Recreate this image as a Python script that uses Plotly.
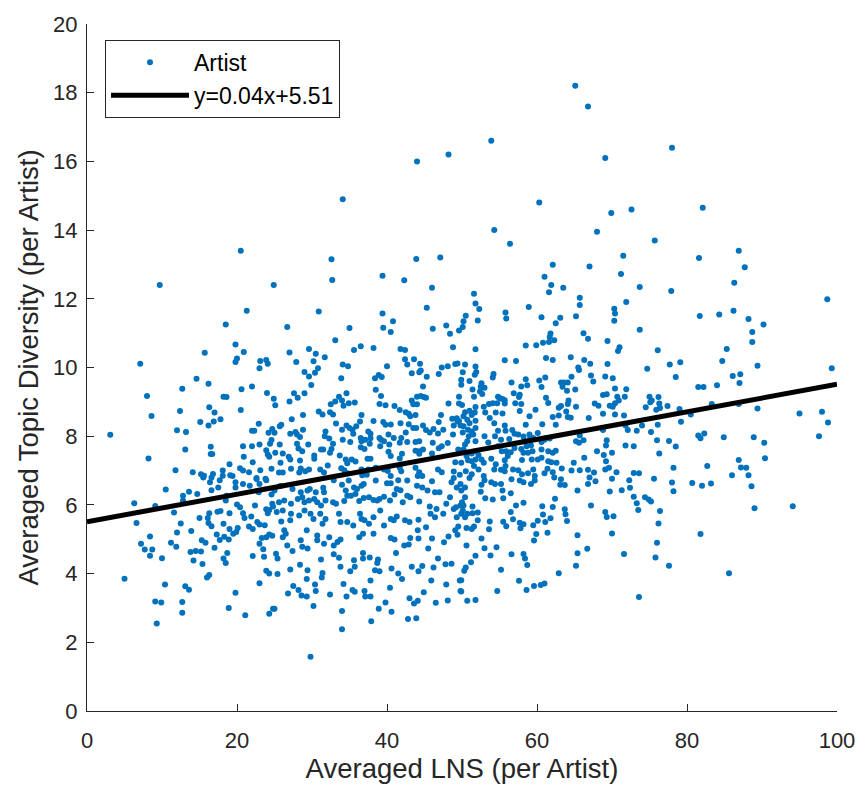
import plotly.graph_objects as go

# Per-artist averages: (Averaged LNS, Averaged Topic Diversity)
artist_points = [
    (65.1, 18.2), (66.8, 17.6), (53.9, 16.6), (69.1, 16.1), (60.3, 14.8), (72.6, 14.6), (69.9, 14.5),
    (54.3, 14.0), (68.0, 13.95), (56.4, 13.6), (78.0, 16.4), (82.1, 14.65), (75.7, 13.7), (86.9, 13.4),
    (34.1, 14.9), (44.0, 16.0), (48.2, 16.2), (20.5, 13.4),
    (9.7, 12.4), (24.9, 12.4), (21.3, 11.65), (18.5, 11.25), (19.8, 10.67), (20.9, 10.45), (15.7, 10.43),
    (20.0, 10.26), (19.8, 10.16), (23.1, 10.19), (23.9, 10.22), (24.1, 10.11), (23.0, 9.98), (7.1, 10.11),
    (14.6, 9.67), (16.2, 9.53), (12.7, 9.38), (22.0, 9.45), (20.6, 9.37), (24.0, 9.26), (18.2, 9.15),
    (18.6, 9.14), (8.0, 9.17), (24.9, 9.09), (25.1, 8.90), (16.3, 8.84), (17.0, 8.69), (12.4, 8.73),
    (20.5, 8.76), (8.6, 8.59), (17.8, 8.49), (16.9, 8.43), (15.1, 8.41), (16.2, 8.31), (22.9, 8.36),
    (24.7, 8.21), (22.0, 8.16), (22.3, 8.16), (24.2, 8.10), (25.0, 8.10), (12.0, 8.17), (13.2, 8.12),
    (3.1, 8.04), (24.6, 7.89), (24.4, 7.78), (20.8, 7.71), (22.0, 7.71), (23.0, 7.76), (16.5, 7.69),
    (13.1, 7.61), (23.9, 7.59), (24.1, 7.47), (24.3, 7.40), (25.1, 7.52), (16.5, 7.48), (16.7, 7.48),
    (20.9, 7.40), (8.2, 7.35), (19.0, 7.18), (22.1, 7.24), (20.4, 7.07), (20.8, 7.00), (21.6, 6.95),
    (23.1, 7.01), (24.6, 7.05), (11.8, 7.01), (14.1, 6.95), (15.2, 6.89), (15.6, 6.85), (16.8, 6.90),
    (16.6, 6.80), (18.1, 7.00), (18.1, 6.85), (19.1, 6.86), (19.4, 6.84), (22.6, 6.78), (23.8, 6.76),
    (32.6, 13.15), (32.7, 12.55), (43.9, 13.16), (47.1, 13.20), (39.4, 12.67), (42.3, 12.54), (46.0, 12.32),
    (30.9, 11.63), (45.3, 11.74), (39.4, 11.57), (40.8, 11.35), (39.5, 11.16), (40.5, 11.03), (26.7, 11.18),
    (35.0, 11.15), (46.1, 11.13), (47.9, 11.22), (48.4, 10.98), (49.6, 11.08), (50.1, 11.18), (50.2, 11.35),
    (33.1, 10.79), (27.0, 10.44), (29.6, 10.54), (30.5, 10.40), (31.7, 10.30), (35.6, 10.51), (36.5, 10.62),
    (38.2, 10.57), (41.8, 10.54), (42.4, 10.51), (48.8, 10.59), (27.9, 10.16), (30.2, 10.18), (30.8, 9.98),
    (34.1, 10.09), (34.8, 10.04), (40.0, 10.04), (42.4, 10.24), (43.6, 10.24), (42.7, 10.09), (44.4, 10.11),
    (47.3, 10.00), (48.1, 10.04), (49.1, 10.10), (49.4, 10.12), (29.0, 9.87), (30.4, 9.85), (29.6, 9.74),
    (33.9, 9.69), (38.4, 9.69), (38.9, 9.78), (39.3, 9.72), (43.3, 9.83), (44.3, 9.86), (44.5, 9.91),
    (45.3, 9.73), (46.9, 9.81), (50.1, 9.86), (29.9, 9.49), (38.5, 9.35), (44.8, 9.45), (49.9, 9.50),
    (27.6, 9.25), (28.1, 9.12), (29.0, 9.25), (27.0, 9.01), (33.6, 9.15), (33.1, 9.01), (32.5, 8.93),
    (34.2, 8.89), (34.6, 9.25), (34.0, 9.04), (34.9, 8.96), (35.7, 8.98), (39.2, 9.17), (39.0, 8.94),
    (39.8, 8.90), (41.0, 8.88), (43.3, 9.04), (43.5, 8.93), (44.0, 8.93), (44.0, 9.15), (44.5, 9.17),
    (44.9, 9.14), (45.2, 9.12), (48.2, 8.95), (49.6, 9.15), (49.6, 8.95), (50.0, 8.91), (30.9, 8.72),
    (31.4, 8.63), (32.4, 8.70), (32.8, 8.63), (36.6, 8.62), (41.7, 8.76), (42.5, 8.70), (42.9, 8.65),
    (43.1, 8.58), (43.8, 8.62), (47.2, 8.62), (48.7, 8.51), (49.3, 8.52), (49.4, 8.43), (28.8, 8.62),
    (27.3, 8.49), (25.9, 8.33), (25.7, 8.29), (28.8, 8.19), (27.8, 8.12), (27.1, 8.07), (28.0, 8.05),
    (28.4, 7.98), (31.8, 8.14), (31.7, 8.00), (32.3, 7.93), (33.2, 8.37), (34.0, 8.19), (34.6, 8.31),
    (35.0, 8.24), (35.4, 8.19), (35.9, 8.29), (35.5, 8.07), (36.4, 8.43), (37.5, 8.14), (37.8, 8.07),
    (38.2, 8.44), (39.5, 8.41), (39.8, 8.33), (40.5, 8.34), (41.8, 8.38), (42.9, 8.35), (43.5, 8.24),
    (43.9, 8.24), (42.5, 8.11), (40.2, 8.05), (40.9, 7.95), (41.9, 7.95), (39.0, 7.95), (39.2, 7.90),
    (36.5, 7.95), (37.1, 7.90), (37.8, 7.94), (34.1, 7.90), (44.8, 8.31), (45.2, 8.18), (45.7, 8.11),
    (46.2, 8.21), (46.9, 8.41), (46.8, 8.08), (47.5, 8.19), (48.9, 8.31), (49.6, 8.44), (49.8, 8.31),
    (48.8, 8.05), (50.1, 8.11), (25.7, 7.76), (28.0, 7.78), (28.2, 7.64), (28.7, 7.56), (29.5, 7.76),
    (31.2, 7.61), (31.5, 7.61), (32.8, 7.78), (32.6, 7.63), (35.1, 7.83), (36.5, 7.68), (37.0, 7.63),
    (37.7, 7.78), (36.6, 7.85), (39.1, 7.71), (39.6, 7.85), (40.3, 7.76), (41.7, 7.81), (42.7, 7.83),
    (43.8, 7.83), (44.3, 7.85), (44.8, 7.61), (43.8, 7.58), (44.3, 7.56), (46.1, 7.81), (46.9, 7.65),
    (47.3, 7.71), (48.1, 7.80), (49.5, 7.61), (26.1, 7.50), (26.9, 7.40), (27.1, 7.32), (25.8, 7.23),
    (28.4, 7.29), (30.3, 7.44), (30.3, 7.34), (32.4, 7.52), (33.7, 7.44), (34.5, 7.32), (34.7, 7.21),
    (35.3, 7.32), (35.8, 7.26), (37.4, 7.34), (37.8, 7.34), (40.2, 7.55), (40.5, 7.42), (42.0, 7.49),
    (41.7, 7.35), (44.3, 7.49), (46.0, 7.50), (49.1, 7.24), (27.2, 7.05), (28.5, 7.06), (29.1, 6.98),
    (29.6, 7.03), (31.1, 7.03), (32.1, 7.15), (33.9, 7.07), (34.3, 7.01), (36.6, 7.03), (37.5, 7.03),
    (38.5, 7.08), (39.6, 7.03), (40.1, 6.99), (41.7, 7.08), (41.9, 6.98), (43.8, 7.08), (44.3, 6.95),
    (46.8, 7.03), (47.3, 6.95), (48.9, 6.97), (25.6, 6.94), (26.1, 6.94), (28.3, 6.94), (31.6, 6.94),
    (34.7, 6.92), (36.7, 6.86), (37.3, 6.88), (40.5, 6.84), (44.1, 6.84), (44.7, 6.84), (49.7, 6.88),
    (71.5, 13.25), (62.1, 12.99), (67.0, 12.94), (71.2, 12.72), (61.0, 12.64), (61.9, 12.40), (61.6, 12.19),
    (63.5, 12.32), (73.7, 12.34), (51.6, 12.15), (51.8, 11.86), (52.3, 11.70), (65.7, 12.03), (65.7, 11.82),
    (71.9, 11.91), (58.9, 11.76), (55.8, 11.60), (55.9, 11.43), (50.5, 11.51), (52.1, 11.37), (60.6, 11.46),
    (63.1, 11.45), (62.5, 11.29), (65.2, 11.49), (70.3, 11.71), (70.4, 11.57), (70.3, 11.36), (73.7, 11.10),
    (61.8, 10.99), (61.7, 10.89), (62.3, 10.79), (61.6, 10.74), (60.8, 10.72), (59.9, 10.65), (58.5, 10.64),
    (66.2, 11.00), (66.8, 10.84), (69.4, 10.77), (71.0, 10.59), (70.8, 10.48), (51.8, 10.53), (55.7, 10.21),
    (57.2, 10.19), (61.2, 10.28), (62.1, 10.22), (64.5, 10.30), (66.3, 10.22), (67.1, 10.11), (69.4, 10.10),
    (50.4, 10.09), (51.8, 10.03), (51.9, 9.87), (51.7, 9.79), (65.5, 10.00), (65.6, 9.93), (74.7, 9.96),
    (54.2, 9.81), (54.1, 9.71), (61.1, 9.71), (64.6, 9.73), (67.2, 9.77), (67.5, 9.59), (69.1, 9.74),
    (70.1, 9.69), (49.9, 9.64), (51.0, 9.61), (52.6, 9.54), (52.5, 9.44), (53.0, 9.41), (51.4, 9.36),
    (51.6, 9.15), (52.4, 9.30), (52.7, 9.23), (58.5, 9.66), (58.7, 9.48), (57.9, 9.45), (56.6, 9.56),
    (60.3, 9.62), (60.6, 9.43), (63.2, 9.56), (63.6, 9.56), (64.1, 9.56), (63.4, 9.44), (64.0, 9.32),
    (65.1, 9.36), (70.4, 9.39), (70.7, 9.15), (71.9, 9.37), (71.7, 9.15), (68.8, 9.20), (69.3, 9.22),
    (75.0, 9.15), (75.1, 8.99), (54.8, 9.15), (55.0, 9.11), (55.4, 9.08), (55.7, 9.05), (55.7, 8.95),
    (54.7, 8.96), (54.1, 8.96), (53.6, 8.94), (56.9, 9.25), (57.1, 8.96), (57.6, 9.14), (57.7, 9.21),
    (57.9, 8.94), (61.2, 9.12), (61.5, 8.97), (62.9, 8.83), (63.2, 8.88), (64.2, 9.04), (64.1, 8.94),
    (65.2, 8.86), (67.7, 8.95), (68.2, 8.89), (68.8, 8.65), (69.7, 8.89), (70.1, 8.86), (70.4, 8.96),
    (70.9, 9.04), (74.5, 8.84), (51.0, 8.74), (51.3, 8.62), (51.8, 8.85), (51.7, 8.69), (50.4, 8.70),
    (50.2, 8.58), (50.7, 8.48), (51.0, 8.38), (51.8, 8.45), (52.9, 8.86), (53.1, 8.69), (53.7, 8.53),
    (54.5, 8.69), (55.4, 8.66), (54.3, 8.38), (57.7, 8.73), (59.0, 8.58), (58.5, 8.33), (59.8, 8.77),
    (60.7, 8.35), (62.1, 8.56), (62.5, 8.33), (62.9, 8.60), (63.9, 8.72), (64.1, 8.56), (64.5, 8.54),
    (66.9, 8.53), (68.8, 8.18), (70.4, 8.63), (71.6, 8.60), (71.8, 8.31), (72.1, 8.18), (73.3, 8.16),
    (74.0, 8.31), (75.2, 8.12), (50.2, 8.29), (50.8, 8.19), (51.3, 8.14), (51.8, 8.24), (51.5, 8.05),
    (50.9, 8.00), (50.7, 7.85), (51.8, 7.85), (53.0, 8.00), (53.5, 7.82), (54.4, 8.00), (54.8, 8.16),
    (55.7, 8.31), (55.8, 8.16), (56.7, 8.18), (57.0, 8.07), (57.5, 8.05), (55.2, 7.90), (56.3, 7.92),
    (58.2, 7.99), (58.3, 7.87), (59.0, 8.05), (59.0, 7.90), (59.5, 7.95), (60.1, 8.09), (60.6, 7.83),
    (61.0, 7.90), (61.3, 7.95), (61.7, 7.93), (65.2, 7.85), (65.6, 7.81), (65.7, 8.02), (66.2, 7.88),
    (69.3, 7.88), (69.2, 7.73), (71.8, 7.73), (72.9, 7.71), (50.4, 7.76), (50.2, 7.61), (50.6, 7.42),
    (51.3, 7.50), (51.8, 7.56), (52.2, 7.45), (52.6, 7.32), (52.9, 7.23), (51.8, 7.32), (51.3, 7.27),
    (50.8, 7.30), (54.8, 7.71), (55.3, 7.56), (55.9, 7.56), (56.5, 7.53), (56.1, 7.42), (55.7, 7.30),
    (55.8, 7.13), (57.0, 7.66), (57.9, 7.63), (58.6, 7.71), (59.2, 7.73), (59.4, 7.56), (58.2, 7.52),
    (58.8, 7.52), (60.6, 7.61), (60.6, 7.37), (60.1, 7.32), (59.3, 7.32), (58.0, 7.31), (61.5, 7.56),
    (62.1, 7.52), (62.5, 7.58), (61.5, 7.27), (61.9, 7.24), (62.6, 7.23), (64.9, 7.23), (66.3, 7.37),
    (68.0, 7.56), (68.9, 7.45), (70.0, 7.52), (53.9, 7.34), (54.5, 7.18), (52.2, 7.03), (51.6, 7.13),
    (51.3, 6.89), (52.9, 6.84), (54.3, 7.03), (55.2, 7.02), (55.7, 6.98), (56.8, 7.03), (57.5, 7.01),
    (58.0, 6.89), (58.8, 6.92), (59.5, 7.03), (59.7, 6.84), (61.0, 6.92), (61.4, 7.05), (62.1, 6.95),
    (63.3, 7.06), (64.6, 7.00), (65.7, 7.01), (66.8, 7.02), (67.6, 6.94), (69.1, 7.03), (70.6, 6.95),
    (72.9, 6.93), (73.6, 6.92), (49.9, 7.23), (50.5, 6.98), (69.2, 7.27), (69.6, 7.08), (67.0, 6.80),
    (70.0, 6.76),
    (81.6, 13.19), (87.7, 12.92), (86.3, 12.47), (77.9, 12.23), (98.7, 11.99), (81.7, 11.50), (84.3, 11.54),
    (86.2, 11.65), (88.2, 11.41), (90.2, 11.25), (88.7, 11.03), (88.7, 10.74), (76.1, 10.50), (85.3, 10.54),
    (79.1, 10.15), (77.7, 10.09), (84.7, 10.19), (89.4, 10.05), (99.3, 9.98), (78.5, 9.72), (86.1, 9.75),
    (87.1, 9.80), (87.0, 9.55), (81.5, 9.43), (82.2, 9.43), (84.0, 9.48), (75.3, 9.04), (76.2, 9.14),
    (76.3, 8.95), (76.4, 8.82), (75.9, 8.77), (77.4, 8.88), (79.0, 8.79), (80.5, 8.63), (79.2, 8.42),
    (83.3, 8.94), (86.9, 8.94), (89.4, 8.81), (95.0, 8.66), (98.0, 8.71), (98.8, 8.40), (76.1, 8.33),
    (81.5, 8.02), (81.8, 7.94), (82.3, 8.08), (84.9, 7.97), (88.9, 7.97), (90.3, 7.81), (97.6, 8.00),
    (76.0, 7.88), (77.6, 7.86), (78.5, 7.70), (76.3, 7.50), (86.9, 7.31), (90.4, 7.36), (78.2, 7.08),
    (82.7, 7.13), (87.2, 7.09), (87.9, 7.08), (86.0, 6.86), (88.2, 6.86), (75.6, 6.76),
    (78.0, 6.65), (78.2, 6.40), (80.7, 6.64), (82.0, 6.56), (83.2, 6.62), (88.6, 6.54), (74.9, 6.16),
    (75.2, 6.10), (76.4, 5.82), (76.2, 5.46), (89.0, 5.90), (94.1, 5.96), (81.8, 5.15), (76.0, 4.90),
    (75.8, 4.47), (77.6, 4.23), (85.6, 4.01),
    (51.0, 6.78), (53.0, 6.72), (53.9, 6.66), (54.4, 6.61), (52.6, 6.59), (55.2, 6.61), (56.6, 6.75),
    (57.7, 6.71), (58.2, 6.66), (59.2, 6.61), (59.7, 6.71), (62.3, 6.80), (63.2, 6.75), (63.1, 6.59),
    (63.7, 6.58), (66.8, 6.61), (67.8, 6.69), (72.3, 6.72), (72.4, 6.50), (72.9, 6.24), (73.3, 6.05),
    (73.5, 5.85), (74.4, 6.22), (50.4, 6.51), (49.9, 6.42), (52.5, 6.38), (53.1, 6.19), (54.1, 6.16),
    (55.4, 6.42), (55.5, 6.19), (56.5, 6.34), (58.2, 6.06), (57.2, 5.98), (50.4, 6.22), (50.2, 5.98),
    (51.4, 5.95), (51.4, 5.76), (52.1, 5.78), (50.4, 5.64), (50.7, 5.74), (52.1, 5.55), (50.6, 5.33),
    (51.3, 5.30), (51.6, 5.37), (49.9, 5.74), (53.7, 5.52), (53.6, 5.29), (55.5, 5.51), (55.9, 5.38),
    (56.5, 5.79), (56.8, 5.58), (57.7, 5.48), (58.2, 5.44), (57.8, 5.32), (60.7, 5.96), (60.8, 5.72),
    (60.1, 5.54), (59.5, 5.41), (61.1, 5.50), (61.8, 5.61), (62.1, 5.94), (62.4, 6.18), (63.7, 5.87),
    (63.8, 5.73), (64.0, 5.53), (65.4, 6.42), (67.2, 5.98), (69.7, 6.39), (71.3, 6.43), (69.1, 5.79),
    (69.3, 5.65), (70.2, 5.67), (70.0, 5.17), (52.6, 5.02), (50.6, 4.82), (53.0, 4.74), (53.8, 4.53),
    (54.6, 4.77), (51.8, 4.52), (51.2, 4.33), (50.5, 4.18), (50.3, 4.08), (49.9, 3.81), (49.9, 3.48),
    (50.7, 3.21), (51.8, 3.23), (55.2, 4.11), (54.7, 3.49), (56.6, 4.56), (58.2, 4.57), (58.4, 4.44),
    (58.7, 4.25), (57.6, 3.79), (58.6, 3.52), (59.6, 3.64), (60.5, 3.67), (61.0, 3.71), (59.9, 5.15),
    (59.6, 4.96), (61.4, 5.19), (62.9, 4.01), (65.2, 4.23), (65.4, 4.59), (65.4, 5.12), (66.7, 4.72),
    (71.6, 4.57), (73.6, 3.32),
    (25.0, 6.42), (25.8, 6.55), (27.4, 6.46), (28.5, 6.37), (29.4, 6.42), (29.7, 6.46), (30.5, 6.37),
    (31.5, 6.50), (31.6, 6.37), (32.9, 6.72), (34.0, 6.59), (34.5, 6.42), (34.9, 6.71), (35.6, 6.51),
    (36.0, 6.46), (36.6, 6.56), (36.9, 6.61), (38.5, 6.71), (40.0, 6.63), (40.5, 6.63), (41.5, 6.72),
    (41.3, 6.46), (41.8, 6.43), (42.7, 6.71), (44.0, 6.56), (44.7, 6.51), (45.4, 6.42), (46.0, 6.69),
    (46.4, 6.37), (47.0, 6.37), (48.6, 6.66), (48.9, 6.78), (49.3, 6.51), (49.8, 6.61),
    (25.6, 6.08), (26.3, 6.13), (27.2, 6.03), (28.1, 6.17), (28.7, 6.22), (29.0, 6.08), (29.6, 6.13),
    (30.3, 6.17), (30.7, 6.08), (31.2, 5.98), (31.8, 6.13), (32.8, 6.08), (33.2, 6.03), (34.3, 6.11),
    (34.7, 6.27), (35.2, 6.27), (35.8, 6.32), (36.3, 6.11), (36.9, 6.20), (37.6, 6.22), (38.2, 6.14),
    (38.7, 6.13), (39.0, 6.17), (39.6, 6.24), (40.4, 6.13), (41.0, 6.30), (42.1, 6.08), (42.7, 6.27),
    (43.1, 6.22), (44.3, 6.10), (45.7, 5.95), (46.6, 5.88), (47.9, 6.03), (48.4, 6.22), (48.9, 5.88),
    (49.2, 5.93), (49.8, 5.98), (50.0, 6.08),
    (25.3, 5.79), (26.1, 5.84), (27.2, 5.74), (28.3, 5.69), (29.0, 5.84), (29.8, 5.74), (30.2, 5.59),
    (31.1, 5.74), (31.4, 5.45), (31.8, 5.59), (33.6, 5.74), (33.8, 5.50), (34.7, 5.50), (35.5, 5.40),
    (36.4, 5.74), (36.6, 5.59), (37.0, 5.55), (37.6, 5.45), (38.2, 5.64), (39.1, 5.84), (39.6, 5.40),
    (40.5, 5.59), (40.9, 5.55), (41.3, 5.66), (42.4, 5.55), (43.0, 5.50), (44.2, 5.57), (45.2, 5.35),
    (45.8, 5.74), (46.4, 5.64), (47.5, 5.74), (49.3, 5.64), (49.5, 5.37), (50.1, 5.84),
    (25.9, 5.52), (27.1, 5.55), (26.3, 5.26), (26.1, 5.06), (26.7, 4.82), (27.4, 4.66), (28.5, 4.97),
    (28.7, 4.78), (29.4, 4.73), (30.7, 5.11), (31.6, 4.87), (32.3, 5.06), (32.9, 4.82), (33.4, 4.92),
    (33.8, 4.99), (36.3, 5.06), (36.8, 5.16), (38.2, 5.16), (40.5, 5.04), (41.0, 4.99), (41.2, 4.60),
    (42.3, 4.82), (42.9, 4.85), (43.1, 5.04), (44.1, 5.26), (44.2, 5.02), (45.5, 4.73), (46.0, 5.02),
    (47.6, 4.91), (48.2, 5.08), (49.1, 5.26), (49.4, 5.13), (26.5, 5.16), (29.3, 5.26), (30.7, 4.97),
    (25.2, 4.58), (25.4, 4.44), (28.4, 4.26), (29.4, 4.10), (29.3, 3.84), (27.1, 4.12), (31.2, 4.41),
    (31.4, 4.02), (31.3, 3.89), (32.9, 4.56), (33.6, 4.46), (33.8, 4.20), (35.1, 4.07), (35.6, 4.39),
    (35.7, 4.20), (36.8, 4.60), (36.8, 4.44), (37.7, 4.47), (38.4, 4.10), (38.7, 4.31), (38.8, 4.41),
    (39.0, 4.07), (40.6, 4.15), (41.5, 4.00), (42.0, 3.84), (43.3, 4.20), (44.2, 4.07), (44.7, 4.22),
    (46.2, 4.18), (46.8, 4.44), (47.8, 4.27), (48.6, 4.29), (45.9, 3.80), (49.7, 3.80),
    (25.4, 3.99), (27.5, 3.64), (28.2, 3.52), (28.6, 3.36), (29.3, 3.33), (26.8, 3.42), (30.4, 3.68),
    (30.5, 3.49), (32.4, 3.39), (34.2, 3.70), (34.6, 3.33), (35.7, 3.47), (37.0, 3.49), (37.1, 3.33),
    (37.8, 3.33), (37.8, 3.80), (40.4, 3.59), (39.8, 3.16), (40.6, 2.89), (38.9, 2.98), (37.9, 2.61),
    (34.0, 2.91), (34.0, 2.38), (30.2, 3.06), (29.8, 1.58), (43.0, 3.28), (43.6, 3.13), (44.1, 3.21),
    (44.9, 3.46), (46.5, 3.15), (47.9, 3.68), (48.1, 3.22), (49.8, 3.49), (42.8, 2.68), (43.9, 2.70),
    (25.0, 2.98), (35.4, 3.52),
    (10.5, 6.45), (6.3, 6.05), (9.1, 5.97), (11.6, 5.78), (6.6, 5.47), (12.8, 6.27), (12.8, 6.13),
    (13.6, 6.38), (14.7, 6.32), (15.5, 6.80), (16.4, 6.66), (16.6, 6.43), (17.5, 6.51), (17.7, 6.72),
    (18.6, 6.27), (18.5, 6.13), (19.8, 6.66), (19.8, 6.51), (20.8, 6.61), (21.7, 6.56), (22.6, 6.75),
    (23.0, 6.61), (22.9, 6.37), (23.9, 6.72), (15.0, 5.62), (16.1, 5.62), (16.3, 5.76), (17.4, 5.80),
    (17.8, 5.82), (19.0, 5.76), (16.2, 5.47), (16.6, 5.38), (18.2, 5.45), (19.0, 5.30), (19.5, 5.16),
    (19.9, 5.21), (20.1, 5.33), (20.4, 5.93), (20.0, 6.01), (20.8, 5.76), (21.0, 5.62), (21.6, 5.37),
    (22.1, 5.30), (21.9, 5.66), (22.4, 5.98), (22.7, 5.50), (23.0, 5.43), (23.7, 5.41), (24.3, 5.85),
    (24.1, 5.76), (24.8, 5.95), (24.6, 6.30), (24.7, 6.03), (23.9, 5.87),
    (7.2, 4.87), (7.7, 4.70), (8.4, 5.08), (8.7, 4.70), (8.4, 4.52), (10.0, 4.45), (11.2, 4.90),
    (11.9, 4.78), (12.0, 5.20), (12.5, 5.46), (13.9, 5.24), (13.8, 4.63), (14.5, 4.66), (15.2, 4.64),
    (15.3, 4.97), (15.8, 4.90), (14.2, 4.38), (15.4, 4.28), (17.0, 4.75), (17.3, 5.14), (17.7, 4.98),
    (18.3, 5.07), (18.9, 4.99), (18.2, 4.44), (18.5, 4.31), (18.7, 4.60), (22.1, 4.51), (23.0, 4.87),
    (23.3, 5.04), (23.5, 4.71), (23.6, 4.49), (23.9, 5.06), (24.3, 5.14), (23.9, 4.08), (24.3, 4.00),
    (24.7, 5.10), (5.0, 3.85), (10.4, 3.68), (13.1, 3.63), (13.6, 3.53), (9.1, 3.19), (9.9, 3.16),
    (12.7, 3.17), (12.7, 2.86), (9.3, 2.55), (16.3, 3.96), (16.0, 3.89), (19.8, 3.44), (18.9, 3.00),
    (21.1, 2.79), (23.0, 3.72), (24.3, 2.83), (24.8, 2.98),
]

lns_values = [p[0] for p in artist_points]
diversity_values = [p[1] for p in artist_points]

# Least-squares fit reported in the legend
fit_slope = 0.04
fit_intercept = 5.51
fit_x = [0, 100]
fit_y = [fit_slope * x + fit_intercept for x in fit_x]

x_ticks = [0, 20, 40, 60, 80, 100]
y_ticks = [0, 2, 4, 6, 8, 10, 12, 14, 16, 18, 20]

font_family = "Liberation Sans, Arial, Helvetica, sans-serif"
axis_color = "#262626"

fig = go.Figure()
fig.add_trace(go.Scatter(
    x=lns_values, y=diversity_values, mode="markers", name="Artist",
    marker=dict(color="#0072BD", size=6, line=dict(width=0)),
))
fig.add_trace(go.Scatter(
    x=fit_x, y=fit_y, mode="lines",
    name=f"y={fit_slope:g}x+{fit_intercept:g}",
    line=dict(color="black", width=5),
))

fig.update_layout(
    width=867, height=793,
    margin=dict(l=87, r=27, t=20, b=82),
    paper_bgcolor="white", plot_bgcolor="white",
    font=dict(family=font_family, size=22, color=axis_color),
    showlegend=True,
    legend=dict(
        x=0.024, y=0.977, xanchor="left", yanchor="top",
        bgcolor="white", bordercolor=axis_color, borderwidth=1,
        font=dict(size=23, color="black"), itemwidth=78,
        tracegroupgap=0,
    ),
    xaxis=dict(
        range=[0, 100], tickvals=x_ticks, ticks="inside", ticklen=7,
        tickcolor=axis_color, showline=True, linecolor=axis_color, linewidth=1,
        showgrid=False, zeroline=False, mirror=False,
        title=dict(text="Averaged LNS (per Artist)", font=dict(size=27.5), standoff=6),
        tickfont=dict(size=22), ticklabelstandoff=10,
    ),
    yaxis=dict(
        range=[0, 20], tickvals=y_ticks, ticks="inside", ticklen=7,
        tickcolor=axis_color, showline=True, linecolor=axis_color, linewidth=1,
        showgrid=False, zeroline=False, mirror=False,
        title=dict(text="Averaged Topic Diversity (per Artist)", font=dict(size=27.5), standoff=6),
        tickfont=dict(size=22), ticklabelstandoff=4,
    ),
)

fig.write_html("out.html")
